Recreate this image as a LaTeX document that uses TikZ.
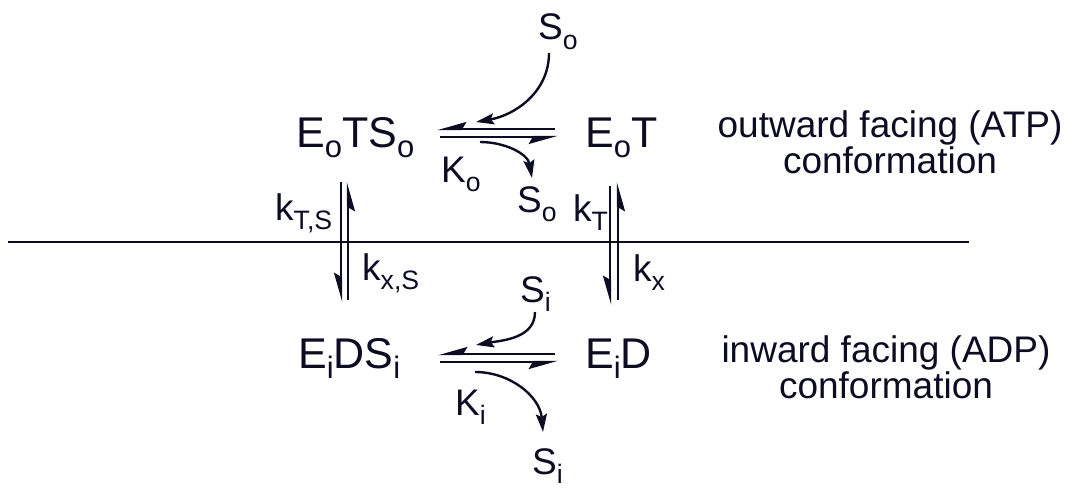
\documentclass[tikz,border=0pt]{standalone}
\usepackage{fontspec}
\setmainfont{Liberation Sans}
\usetikzlibrary{arrows.meta}
\definecolor{ink}{RGB}{12,12,34}
\newcommand{\lo}[1]{\raisebox{-.25em}{\scalebox{.72}{#1}}}

\begin{document}
\begin{tikzpicture}[
    x=1pt, y=1pt,
    sp/.style={inner sep=0pt, anchor=base west, text=ink, font=\fontsize{43}{43}\selectfont},
    lab/.style={inner sep=0pt, anchor=base west, text=ink, font=\fontsize{37}{37}\selectfont},
    conf/.style={inner sep=0pt, anchor=base, align=center, text=ink, font=\fontsize{37}{33}\selectfont},
    half/.style={-{Stealth[harpoon, swap, length=25pt, width=14pt, inset=4pt]}, line width=2.4pt, draw=ink},
    bent/.style={-{Stealth[length=18pt, width=11pt, inset=3pt]}, line width=2.4pt, draw=ink}
]
\useasboundingbox (0,0) rectangle (1073,-487);

% membrane
\draw[line width=2.8pt, ink] (8,-242) -- (969,-242);

% species
\node[sp] (eots) at (296,-147) {E\lo{o}TS\lo{o}};
\node[sp] (eot)  at (585,-147) {E\lo{o}T};
\node[sp] (eids) at (298,-368) {E\lo{i}DS\lo{i}};
\node[sp] (eid)  at (585,-368) {E\lo{i}D};

% substrates and constants
\node[lab] (so)  at (538,-40)  {S\lo{o}};
\node[lab] (ko)  at (441,-182) {K\lo{o}};
\node[lab] (so2) at (517,-212) {S\lo{o}};
\node[lab] (si)  at (520,-302) {S\lo{i}};
\node[lab] (ki)  at (455,-415) {K\lo{i}};
\node[lab] (si2) at (532,-474) {S\lo{i}};
\node[lab] (kts) at (275,-220) {k\lo{T,S}};
\node[lab] (kxs) at (362,-280) {k\lo{x,S}};
\node[lab] (kt)  at (573,-221) {k\lo{T}};
\node[lab] (kx)  at (633,-281) {k\lo{x}};

% conformations (base = last line)
\node[conf] (out) at (890,-173) {outward facing (ATP)\\conformation};
\node[conf] (in)  at (886,-398) {inward facing (ADP)\\conformation};

% outward equilibrium
\draw[half] ([shift={(-30,18)}]eot.base west) -- ([shift={(141,18)}]eots.base west);
\draw[half] ([shift={(144,10)}]eots.base west) -- ([shift={(-27,10)}]eot.base west);
\draw[bent] ([shift={(11,-13)}]so.base west) to[out=-90, in=10] ([shift={(180,25)}]eots.base west);
\draw[bent] ([shift={(184,5)}]eots.base west) to[out=0, in=100] ([shift={(15,34)}]so2.base west);

% inward equilibrium
\draw[half] ([shift={(-30,14)}]eid.base west) -- ([shift={(140,14)}]eids.base west);
\draw[half] ([shift={(142,6)}]eids.base west) -- ([shift={(-27,6)}]eid.base west);
\draw[bent] ([shift={(15,-10)}]si.base west) to[out=-90, in=10] ([shift={(178,23)}]eids.base west);
\draw[bent] ([shift={(177,-4)}]eids.base west) to[out=0, in=95] ([shift={(11,42)}]si2.base west);

% translocation
\draw[half] ([shift={(45,-35)}]eots.base west) -- ([shift={(43,66)}]eids.base west);
\draw[half] ([shift={(50,68)}]eids.base west) -- ([shift={(52,-35)}]eots.base west);
\draw[half] ([shift={(25,-39)}]eot.base west) -- ([shift={(25,63)}]eid.base west);
\draw[half] ([shift={(33,68)}]eid.base west) -- ([shift={(33,-35)}]eot.base west);
\end{tikzpicture}
\end{document}
